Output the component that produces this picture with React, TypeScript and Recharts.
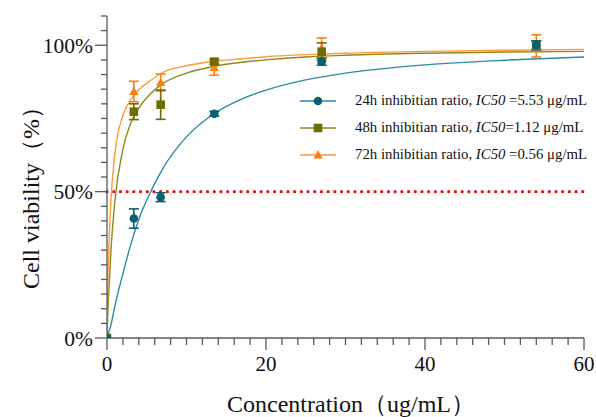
import React from 'react';
import {
  ComposedChart,
  Line,
  Scatter,
  ErrorBar,
  XAxis,
  YAxis,
  ReferenceLine,
} from 'recharts';

if (typeof document !== 'undefined') document.body.style.margin = '0';

// measured points (concentration ug/mL, viability %, sd)
const concentrations = [0, 3.375, 6.75, 13.5, 27, 54];
const viability24h = [0, 40.8, 48.1, 76.6, 94.4, 100];
const sd24h = [0, 3.3, 1.5, 0.8, 1.2, 1.5];
const viability48h = [0, 77.3, 79.7, 94.4, 97.8, 100];
const sd48h = [0, 2.7, 5.0, 0.8, 3.0, 1.5];
const viability72h = [0, 84.2, 87.3, 92.4, 99.0, 99.8];
const sd72h = [0, 3.5, 2.9, 2.6, 3.5, 3.8];

// fitted curves
const curveConc = [0, 0.05, 0.2, 0.5, 1, 2, 3, 4, 5.5, 7, 10, 13.5, 17, 20, 25, 30, 40, 50, 60];
const fit24h = [0, 0.3, 1.8, 4.5, 11, 22, 32, 40.5, 50, 57.8, 68.7, 76.7, 81.7, 84.7, 88.2, 90.5, 93.3, 94.9, 96];
const fit48h = [0, 5, 14.5, 30, 47, 64.5, 73.5, 78.5, 83.5, 86.9, 90.5, 92.8, 94.2, 95, 96, 96.6, 97.3, 97.7, 97.9];
const fit72h = [0, 12, 28, 47, 63, 76, 81.5, 84.8, 88, 90.7, 93, 94.5, 95.4, 96.1, 96.8, 97.3, 97.9, 98.3, 98.6];

const xTicks = [0, 2, 4, 6, 8, 10, 12, 14, 16, 18, 20, 22, 24, 26, 28, 30, 32, 34, 36, 38, 40, 42, 44, 46, 48, 50, 52, 54, 56, 58, 60];
const xLabels = [0, 20, 40, 60];
const yTicks = [0, 5, 10, 15, 20, 25, 30, 35, 40, 45, 50, 55, 60, 65, 70, 75, 80, 85, 90, 95, 100, 105, 110];
const yLabels = [0, 50, 100];

const FONT = '"Liberation Serif", "Times New Roman", serif';
const AXIS = '#5a5a5a';

const series = [
  { name: '24h inhibitian ratio, ', ic: ' =5.53 μg/mL', line: '#2b8ca3', mark: '#0c5f70', shape: 'circle', vals: viability24h, sd: sd24h, fit: fit24h },
  { name: '48h inhibitian ratio, ', ic: '=1.12 μg/mL', line: '#8d8a1c', mark: '#6f6c00', shape: 'square', vals: viability48h, sd: sd48h, fit: fit48h },
  { name: '72h inhibitian ratio, ', ic: ' =0.56 μg/mL', line: '#ff9a3a', mark: '#ff7f0e', shape: 'triangle', vals: viability72h, sd: sd72h, fit: fit72h },
];

const toPoints = (vals: number[], sd: number[]) =>
  concentrations.map((x, i) => ({ x, y: vals[i], err: sd[i] }));
const toCurve = (fit: number[]) => curveConc.map((x, i) => ({ x, y: fit[i] }));

const Marker = ({ cx, cy, shape, fill }: any) => {
  if (cx == null || cy == null) return null;
  if (shape === 'circle') return <circle cx={cx} cy={cy} r={4.3} fill={fill} />;
  if (shape === 'square') return <rect x={cx - 4.3} y={cy - 4.3} width={8.6} height={8.6} fill={fill} />;
  return <path d={`M${cx},${cy - 5} L${cx + 4.6},${cy + 3.6} L${cx - 4.6},${cy + 3.6} Z`} fill={fill} />;
};

const XTick = ({ x, y, payload }: any) => {
  const major = xLabels.includes(payload.value);
  return (
    <g>
      <line x1={x} x2={x} y1={y} y2={y + (major ? 12 : 7)} stroke={AXIS} strokeWidth={1.3} />
      {major && (
        <text x={x} y={y + 33} textAnchor="middle" fontFamily={FONT} fontSize={21} fill="#111">
          {payload.value}
        </text>
      )}
    </g>
  );
};

const YTick = ({ x, y, payload }: any) => {
  const major = yLabels.includes(payload.value);
  return (
    <g>
      <line x1={x - (major ? 12 : 6)} x2={x} y1={y} y2={y} stroke={AXIS} strokeWidth={1.3} />
      {major && (
        <text x={x - 14} y={y} dy="0.35em" textAnchor="end" fontFamily={FONT} fontSize={21.5} fill="#111">
          {payload.value}%
        </text>
      )}
    </g>
  );
};

const ChartLegend = () => (
  <div style={{ position: 'absolute', left: 300, top: 87, fontFamily: FONT, fontSize: 14.8, color: '#111' }}>
    {series.map((s) => (
      <div key={s.name} style={{ display: 'flex', alignItems: 'center', height: 27 }}>
        <svg width={55} height={14} style={{ flex: 'none' }}>
          <line x1={0} x2={36} y1={7} y2={7} stroke={s.line} strokeWidth={1.4} />
          <Marker cx={18} cy={7} shape={s.shape} fill={s.mark} />
        </svg>
        <span style={{ whiteSpace: 'nowrap' }}>
          {s.name}
          <i>IC50</i>
          {s.ic}
        </span>
      </div>
    ))}
  </div>
);

export default function App() {
  return (
    <div style={{ position: 'relative', width: 596, height: 417, background: '#fff' }}>
      <ComposedChart width={596} height={417} margin={{ top: 16, right: 12, left: 47, bottom: 49 }}>
        <XAxis
          type="number"
          dataKey="x"
          domain={[0, 60]}
          ticks={xTicks}
          interval={0}
          tickSize={0}
          tickMargin={0}
          tickLine={false}
          tick={<XTick />}
          stroke={AXIS}
          strokeWidth={1.3}
          height={30}
          allowDataOverflow
        />
        <YAxis
          type="number"
          domain={[0, 110]}
          ticks={yTicks}
          interval={0}
          tickSize={0}
          tickMargin={0}
          tickLine={false}
          tick={<YTick />}
          stroke={AXIS}
          strokeWidth={1.3}
          width={60}
          allowDataOverflow
        />
        <ReferenceLine
          y={50}
          stroke="#e3161d"
          strokeWidth={3.2}
          strokeDasharray="0.1 6.6"
          strokeLinecap="round"
          segment={[{ x: 0, y: 50 }, { x: 60.8, y: 50 }]}
          ifOverflow="visible"
        />
        {series.map((s) => (
          <Line
            key={'fit' + s.name}
            data={toCurve(s.fit)}
            dataKey="y"
            type="monotone"
            stroke={s.line}
            strokeWidth={1.4}
            dot={false}
            activeDot={false}
            isAnimationActive={false}
            legendType="none"
          />
        ))}
        {[...series].reverse().map((s) => (
          <Scatter
            key={'pts' + s.name}
            data={toPoints(s.vals, s.sd)}
            dataKey="y"
            isAnimationActive={false}
            shape={(p: any) => <Marker cx={p.cx} cy={p.cy} shape={s.shape} fill={s.mark} />}
          >
            <ErrorBar dataKey="err" direction="y" width={5} stroke={s.mark} strokeWidth={1.6} />
          </Scatter>
        ))}
      </ComposedChart>
      <ChartLegend />
      <div
        style={{
          position: 'absolute',
          left: 151,
          top: 390,
          width: 400,
          textAlign: 'center',
          fontFamily: FONT,
          fontSize: 24,
          lineHeight: '28px',
          color: '#111',
          whiteSpace: 'nowrap',
        }}
      >
        Concentration（ug/mL）
      </div>
      <div
        style={{
          position: 'absolute',
          left: 31,
          top: 192,
          transform: 'translate(-50%, -50%) rotate(-90deg)',
          fontFamily: FONT,
          fontSize: 24,
          color: '#111',
          whiteSpace: 'nowrap',
        }}
      >
        Cell viability（%）
      </div>
    </div>
  );
}
